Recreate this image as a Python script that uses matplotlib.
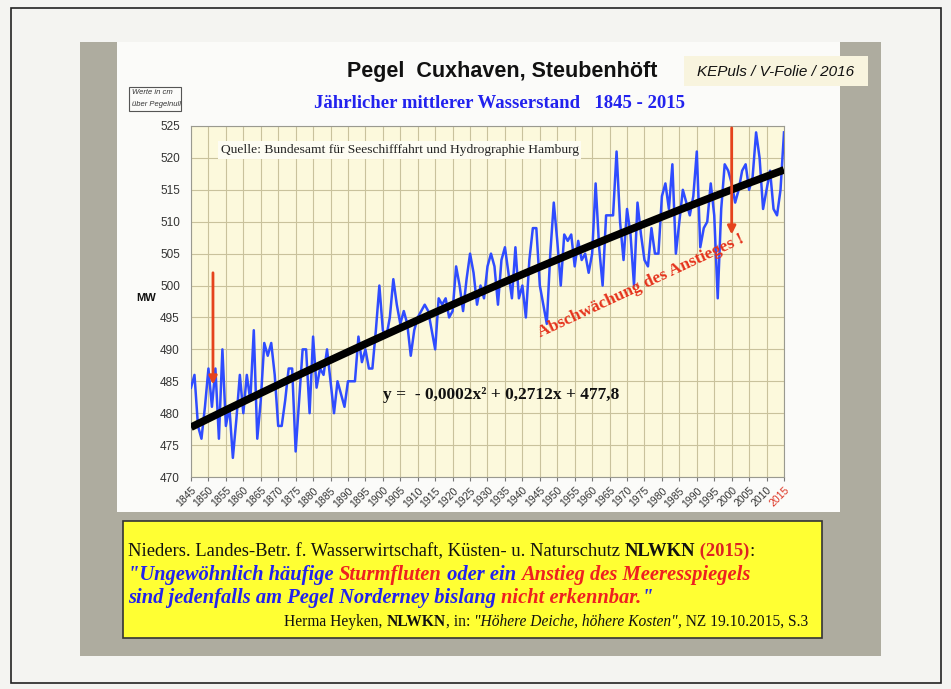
import numpy as np
import matplotlib
matplotlib.use("Agg")
import matplotlib.pyplot as plt
from matplotlib.patches import Rectangle

W, H = 951, 689

# ---------------- data ----------------
years = list(range(1845, 2016))
mw = [484, 486, 478, 476, 481, 487, 481, 487, 476, 490,   # 1845-1854
      478, 481, 473, 479, 486, 480, 486, 482, 493, 476,   # 1855-1864
      482, 491, 489, 491, 486, 478, 478, 482, 487, 487,   # 1865-1874
      474, 482, 490, 490, 480, 492, 484, 487, 486, 490,   # 1875-1884
      485, 480, 485, 483, 481, 485, 485, 485, 492, 488,   # 1885-1894
      490, 487, 487, 493, 500, 493, 492, 495, 501, 497,   # 1895-1904
      494, 496, 494, 489, 493, 495, 496, 497, 496, 493,   # 1905-1914
      490, 498, 497, 498, 495, 496, 503, 500, 496, 501,   # 1915-1924
      505, 502, 497, 500, 498, 503, 505, 503, 497, 504,   # 1925-1934
      506, 502, 498, 506, 498, 500, 495, 504, 509, 509,   # 1935-1944
      500, 497, 494, 505, 513, 507, 500, 508, 507, 508,   # 1945-1954
      503, 507, 504, 505, 502, 505, 516, 506, 500, 511,   # 1955-1964
      511, 511, 521, 510, 504, 512, 508, 500, 513, 508,   # 1965-1974
      504, 503, 509, 505, 505, 514, 516, 512, 519, 505,   # 1975-1984
      510, 515, 513, 511, 514, 521, 506, 509, 510, 516,   # 1985-1994
      511, 498, 512, 519, 518, 516, 513, 515, 518, 519,   # 1995-2004
      515, 517, 524, 520, 512, 515, 518, 512, 511, 515,   # 2005-2014
      524]                                                 # 2015
trend_coef = [-0.0002, 0.2712, 477.8]          # y = a*x^2 + b*x + c, x = years since 1845
tick_years = list(range(1845, 2016, 5))
y_ticks = list(range(470, 526, 5))
arrow_years = [1851.3, 2000.0]
arrow_from = [502.0, 524.7]
arrow_to = [484.5, 508.0]

serif = ['Liberation Serif', 'DejaVu Serif']
sans = ['Liberation Sans', 'DejaVu Sans']
narrow = ['Liberation Sans Narrow', 'Liberation Sans', 'DejaVu Sans']

fig = plt.figure(figsize=(W / 100, H / 100), dpi=100)
fig.patch.set_facecolor('#f4f4f1')


def prect(x0, y0, x1, y1, **kw):
    r = Rectangle((x0 / W, 1 - y1 / H), (x1 - x0) / W, (y1 - y0) / H,
                  transform=fig.transFigure, **kw)
    fig.add_artist(r)
    return r


def ptext(x, y, s, **kw):
    return fig.text(x / W, 1 - y / H, s, **kw)


# outer frame
prect(11, 8, 941, 683, facecolor='none', edgecolor='#222222', lw=1.2, zorder=0)
# slide
prect(80, 42, 881, 656, facecolor='#aeac9f', edgecolor='none', zorder=0)
prect(117, 42, 840, 512, facecolor='#fbfbf9', edgecolor='none', zorder=0)
# KEPuls box
prect(684, 56, 868, 86, facecolor='#f8f4de', edgecolor='none', zorder=1)
ptext(776, 72, 'KEPuls / V-Folie / 2016', family=sans, style='italic',
      fontsize=11, ha='center', va='center', color='#111111')
# titles
ptext(502, 72, 'Pegel  Cuxhaven, Steubenhöft', family=narrow, fontsize=15.5,
      fontweight='bold', ha='center', va='center', color='#111111')
ptext(500, 103, 'Jährlicher mittlerer Wasserstand   1845 - 2015', family=serif,
      fontsize=13.5, fontweight='bold', ha='center', va='center', color='#2222ee')
# Werte box
prect(129, 87, 181, 111, facecolor='#fbfbf9', edgecolor='#555555', lw=0.8, zorder=1)
ptext(132, 93, 'Werte in cm', family=sans, style='italic', fontsize=5.5,
      ha='left', va='center', color='#333333')
ptext(132, 105, 'über Pegelnull', family=sans, style='italic', fontsize=5.5,
      ha='left', va='center', color='#333333')
ptext(136, 298, 'MW', family=sans, fontsize=8, fontweight='bold',
      ha='left', va='center', color='#111111')

# ---------------- axes ----------------
ax = fig.add_axes([191 / W, 1 - 477 / H, (784 - 191) / W, (477 - 126) / H])
ax.set_facecolor('#fcf9dc')
ax.set_xlim(1845, 2015)
ax.set_ylim(470, 525)
ax.set_xticks(tick_years)
ax.set_yticks(y_ticks)
ax.grid(True, color='#c9c29c', lw=0.8)
ax.set_axisbelow(True)
for sp in ax.spines.values():
    sp.set_color('#9a9a90')
    sp.set_linewidth(0.8)
ax.tick_params(axis='y', length=0, labelsize=8.5, labelcolor='#333333', pad=8)
ax.tick_params(axis='x', length=3, color='#777777', labelsize=7.5,
               labelcolor='#333333', pad=3)
ax.set_yticklabels([str(v) for v in y_ticks], family=sans)
ax.set_xticklabels([str(y) for y in tick_years], family=sans, rotation=45,
                   ha='right', rotation_mode='anchor')
ax.get_xticklabels()[-1].set_color('#dd3322')

ax.plot(years, mw, color='#2f4cff', lw=1.8, solid_joinstyle='round', zorder=3)
xs = np.array(years) - years[0]
trend = np.polyval(trend_coef, xs)
ax.plot(years, trend, color='#000000', lw=5.5, solid_capstyle='butt', zorder=4)

for yr, y0, y1 in zip(arrow_years, arrow_from, arrow_to):
    ax.annotate('', xy=(yr, y1), xytext=(yr, y0),
                arrowprops=dict(arrowstyle='-|>', color='#e5431c', lw=2,
                                mutation_scale=12, shrinkA=0, shrinkB=0),
                zorder=5)

ax.text(1853.5, 521.2, 'Quelle: Bundesamt für Seeschifffahrt und Hydrographie Hamburg',
        family=serif, fontsize=9.7, color='#222222', ha='left', va='center',
        bbox=dict(facecolor='#fdfcf2', edgecolor='none', pad=2), zorder=6)
ax.text(1900, 482.8, 'y =  - 0,0002x² + 0,2712x + 477,8', family=serif, fontsize=12.5,
        fontweight='bold', color='#111111', ha='left', va='center', zorder=6)
ax.text(1974, 500.0, 'Abschwächung des Anstieges !', family=serif, fontsize=12.5,
        fontweight='bold', color='#e5331c', ha='center', va='center',
        rotation=25, rotation_mode='anchor', zorder=6)

# ---------------- yellow box ----------------
prect(123, 521, 822, 638, facecolor='#ffff33', edgecolor='#333333', lw=1.2, zorder=1)

fig.canvas.draw()
renderer = fig.canvas.get_renderer()


def segments(x, y, parts, ha='left'):
    objs = []
    for s, kw in parts:
        t = ptext(x, y, s, va='baseline', ha='left', zorder=3, **kw)
        objs.append(t)
    widths = [o.get_window_extent(renderer).width for o in objs]
    total = sum(widths)
    start = x - total if ha == 'right' else x
    cur = start
    for o, w in zip(objs, widths):
        o.set_x(cur / W)
        cur += w


BLUE = '#2222ee'
RED = '#ee2020'
base = dict(family=serif, fontsize=13.4, color='#111111')
segments(128, 556, [
    ('Nieders. Landes-Betr. f. Wasserwirtschaft, Küsten- u. Naturschutz ', base),
    ('NLWKN', dict(base, fontweight='bold')),
    (' (2015)', dict(base, fontweight='bold', color='#dd2222')),
    (':', base)])
q = dict(family=serif, fontsize=14.8, fontweight='bold', style='italic')
segments(128, 580, [
    ('"Ungewöhnlich häufige ', dict(q, color=BLUE)),
    ('Sturmfluten', dict(q, color=RED)),
    (' oder ein ', dict(q, color=BLUE)),
    ('Anstieg des Meeresspiegels', dict(q, color=RED))])
segments(128, 603, [
    ('sind jedenfalls am Pegel Norderney bislang ', dict(q, color=BLUE)),
    ('nicht erkennbar.', dict(q, color=RED)),
    ('"', dict(q, color=BLUE))])
small = dict(family=serif, fontsize=11.2, color='#111111')
segments(808, 626, [
    ('Herma Heyken, ', small),
    ('NLWKN', dict(small, fontweight='bold')),
    (', in: ', small),
    ('"Höhere Deiche, höhere Kosten"', dict(small, style='italic')),
    (', NZ 19.10.2015, S.3', small)], ha='right')

fig.savefig('out.png', dpi=100, facecolor=fig.get_facecolor())
